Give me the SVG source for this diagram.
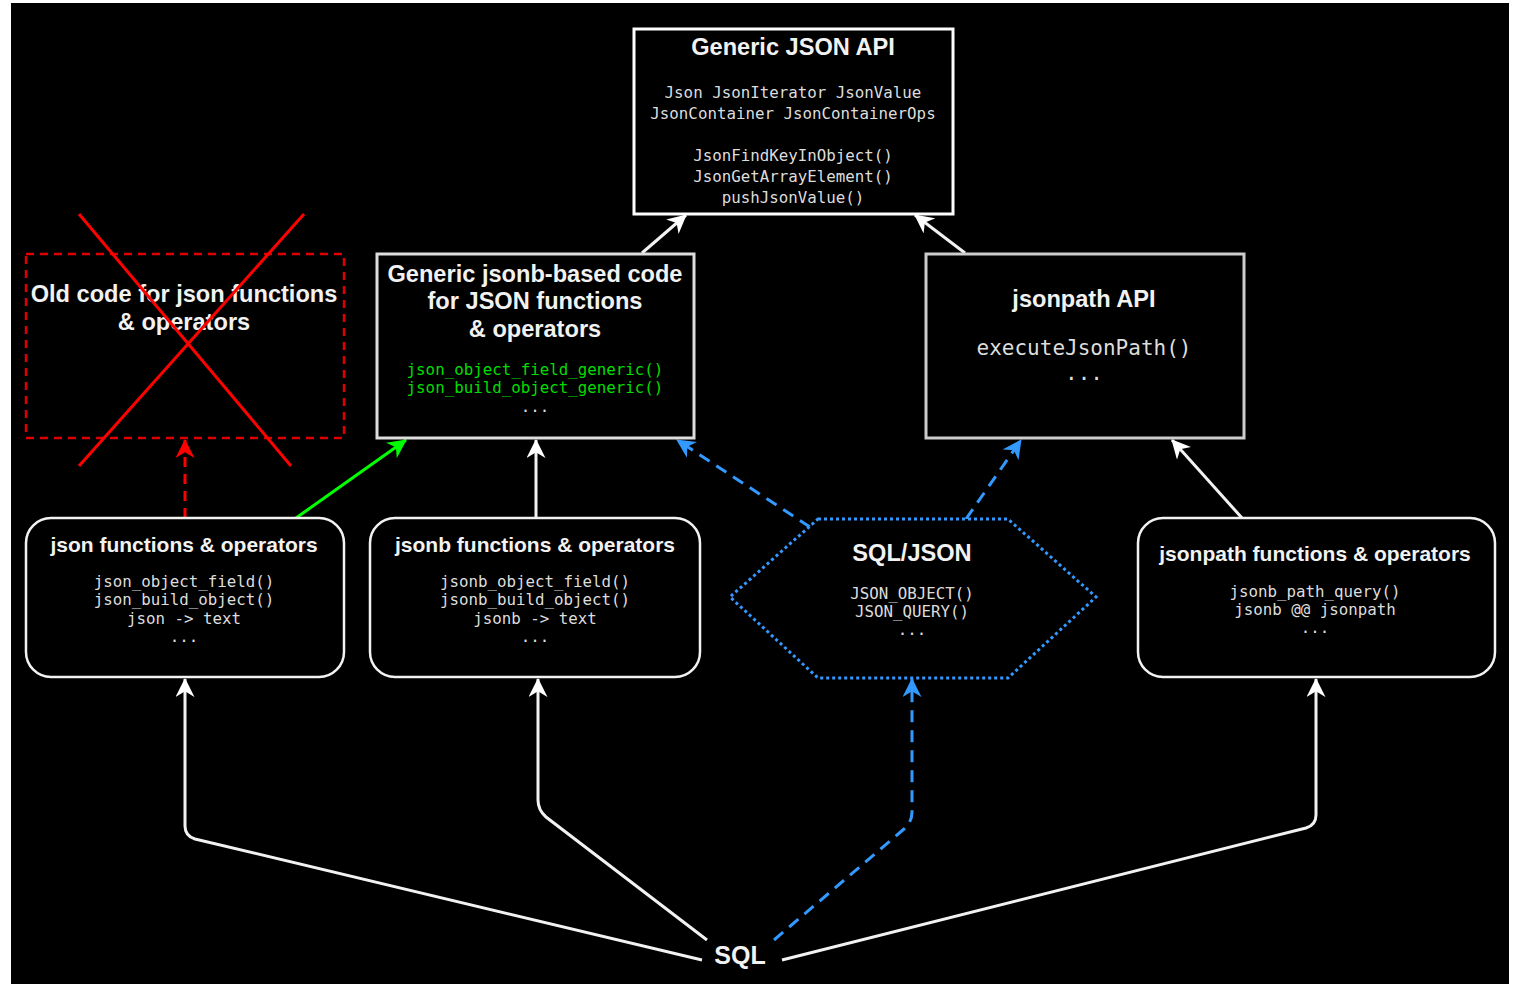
<svg xmlns="http://www.w3.org/2000/svg" width="1517" height="984" viewBox="0 0 1517 984">
<defs>
<marker id="aw" viewBox="0 0 20 20" markerWidth="19" markerHeight="19" refX="19" refY="10" orient="auto" markerUnits="userSpaceOnUse"><path d="M0,0 L20,10 L0,20 L6,10 z" fill="#ffffff"/></marker>
<marker id="ag" viewBox="0 0 20 20" markerWidth="19" markerHeight="19" refX="19" refY="10" orient="auto" markerUnits="userSpaceOnUse"><path d="M0,0 L20,10 L0,20 L6,10 z" fill="#00ff00"/></marker>
<marker id="ar" viewBox="0 0 20 20" markerWidth="19" markerHeight="19" refX="19" refY="10" orient="auto" markerUnits="userSpaceOnUse"><path d="M0,0 L20,10 L0,20 L6,10 z" fill="#ff0000"/></marker>
<marker id="ab" viewBox="0 0 20 20" markerWidth="19" markerHeight="19" refX="19" refY="10" orient="auto" markerUnits="userSpaceOnUse"><path d="M0,0 L20,10 L0,20 L6,10 z" fill="#3399ff"/></marker>
</defs>
<style>
.t{font-family:"Liberation Sans",Arial,sans-serif;font-weight:bold;fill:#f2f2f2;text-anchor:middle}
.t24{font-size:23.6px}
.t21{font-size:21px}
.m{font-family:"DejaVu Sans Mono","Liberation Mono",monospace;font-size:15.8px;fill:#dddddd;text-anchor:middle}
.g{fill:#00dd00}
.box{fill:#000000;stroke-width:3}
.rb{fill:#000000;stroke:#f2f2f2;stroke-width:2.5}
.w{fill:none;stroke:#f2f2f2;stroke-width:3;marker-end:url(#aw)}
.bl{fill:none;stroke:#3399ff;stroke-width:3;stroke-dasharray:12 8;marker-end:url(#ab)}
</style>
<rect x="11" y="3" width="1498" height="981" fill="#000000"/>

<g id="connectors">
<line class="w" x1="642" y1="253" x2="686" y2="215"/>
<line class="w" x1="965" y1="253" x2="915" y2="215"/>
<line x1="296" y1="518" x2="406" y2="440" stroke="#00ff00" stroke-width="3" marker-end="url(#ag)"/>
<line x1="185" y1="518" x2="185" y2="440" stroke="#ff0000" stroke-width="3" stroke-dasharray="10 7" marker-end="url(#ar)"/>
<line class="w" x1="536" y1="518" x2="536" y2="440"/>
<line class="bl" x1="810" y1="527" x2="677" y2="440"/>
<line class="bl" x1="966" y1="519" x2="1021" y2="440"/>
<line class="w" x1="1242" y1="518" x2="1172" y2="440"/>
<path class="w" d="M702,960 L195,839 Q185,836 185,826 L185,679"/>
<path class="w" d="M707,940 L546,817 Q538,810 538,800 L538,679"/>
<path class="bl" d="M774,940 L904,829 Q912,822 912,812 L912,679"/>
<path class="w" d="M782,960 L1306,828 Q1316,825 1316,815 L1316,679"/>
</g>

<g id="generic-json-api">
<rect class="box" x="634" y="29" width="319" height="185" stroke="#ffffff"/>
<text class="t t24" x="793" y="55">Generic JSON API</text>
<text class="m" x="793" y="98">Json JsonIterator JsonValue</text>
<text class="m" x="793" y="119">JsonContainer JsonContainerOps</text>
<text class="m" x="793" y="161">JsonFindKeyInObject()</text>
<text class="m" x="793" y="182">JsonGetArrayElement()</text>
<text class="m" x="793" y="203">pushJsonValue()</text>
</g>

<g id="old-code">
<rect x="26" y="254" width="318" height="184" fill="none" stroke="#dd0000" stroke-width="2.5" stroke-dasharray="8 6"/>
<text class="t t24" x="184" y="302">Old code for json functions</text>
<text class="t t24" x="184" y="330">&amp; operators</text>
<line x1="79" y1="214" x2="291" y2="466" stroke="#ff0000" stroke-width="3"/>
<line x1="304" y1="214" x2="79" y2="466" stroke="#ff0000" stroke-width="3"/>
</g>

<g id="generic-jsonb">
<rect class="box" x="377" y="254" width="317" height="184" stroke="#dddddd"/>
<text class="t t24" x="535" y="282">Generic jsonb-based code</text>
<text class="t t24" x="535" y="309">for JSON functions</text>
<text class="t t24" x="535" y="337">&amp; operators</text>
<text class="m g" x="535" y="375">json_object_field_generic()</text>
<text class="m g" x="535" y="393">json_build_object_generic()</text>
<text class="m" x="535" y="412">...</text>
</g>

<g id="jsonpath-api">
<rect class="box" x="926" y="254" width="318" height="184" stroke="#cccccc"/>
<text class="t t24" x="1084" y="307">jsonpath API</text>
<text class="m" x="1084" y="355" style="font-size:21px">executeJsonPath()</text>
<text class="m" x="1084" y="380" style="font-size:21px">...</text>
</g>

<g id="json-functions">
<rect class="rb" x="26" y="518" width="318" height="159" rx="25"/>
<text class="t t21" x="184" y="552">json functions &amp; operators</text>
<text class="m" x="184" y="587">json_object_field()</text>
<text class="m" x="184" y="605">json_build_object()</text>
<text class="m" x="184" y="624">json -&gt; text</text>
<text class="m" x="184" y="642">...</text>
</g>

<g id="jsonb-functions">
<rect class="rb" x="370" y="518" width="330" height="159" rx="25"/>
<text class="t t21" x="535" y="552">jsonb functions &amp; operators</text>
<text class="m" x="535" y="587">jsonb_object_field()</text>
<text class="m" x="535" y="605">jsonb_build_object()</text>
<text class="m" x="535" y="624">jsonb -&gt; text</text>
<text class="m" x="535" y="642">...</text>
</g>

<g id="sql-json">
<polygon points="818,519 1008,519 1096,597 1008,678 818,678 730,597" fill="#000000" stroke="#3399ff" stroke-width="3" stroke-dasharray="3 3"/>
<text class="t t24" x="912" y="561">SQL/JSON</text>
<text class="m" x="912" y="599">JSON_OBJECT()</text>
<text class="m" x="912" y="617">JSON_QUERY()</text>
<text class="m" x="912" y="635">...</text>
</g>

<g id="jsonpath-functions">
<rect class="rb" x="1138" y="518" width="357" height="159" rx="25"/>
<text class="t t21" x="1315" y="561">jsonpath functions &amp; operators</text>
<text class="m" x="1315" y="597">jsonb_path_query()</text>
<text class="m" x="1315" y="615">jsonb @@ jsonpath</text>
<text class="m" x="1315" y="633">...</text>
</g>

<g id="sql">
<text class="t" x="740" y="964" style="font-size:25px">SQL</text>
</g>
</svg>
